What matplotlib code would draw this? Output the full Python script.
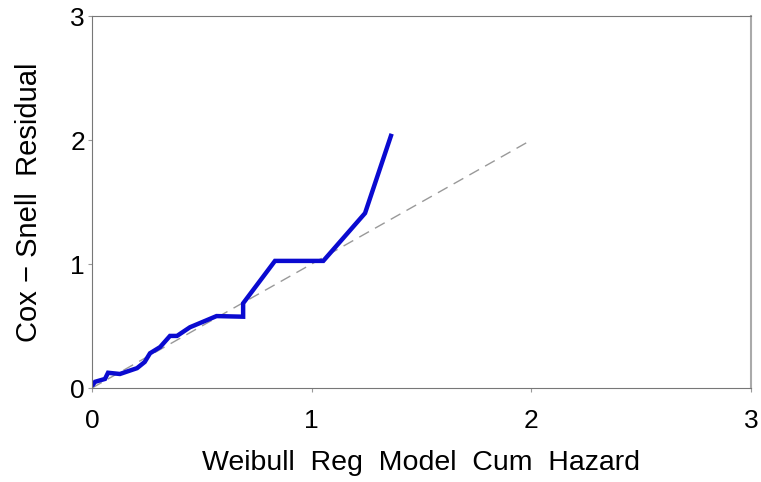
"""
Cox-Snell residual plot for the Weibull regression model
"""

import matplotlib
matplotlib.use('Agg')
import matplotlib.pyplot as plt

# cumulative hazard from the model vs Cox-Snell residual
cum_hazard = [0.0, 0.014, 0.059, 0.073, 0.127, 0.205, 0.24, 0.264, 0.31, 0.355,
              0.387, 0.446, 0.567, 0.688, 0.688, 0.833, 1.053, 1.243, 1.364]
residual = [0.016, 0.05, 0.073, 0.123, 0.113, 0.16, 0.21, 0.28, 0.33, 0.42,
            0.42, 0.49, 0.58, 0.575, 0.683, 1.025, 1.025, 1.41, 2.05]

# reference line y = x
ref_x = [0, 2]
ref_y = [0, 2]

ticks = [0, 1, 2, 3]

plt.rcParams['font.family'] = ['Liberation Sans', 'DejaVu Sans']

fig = plt.figure(figsize=(7.61, 4.82), dpi=100)
ax = fig.add_axes([92 / 761, 94 / 482, 659 / 761, 372 / 482])

ax.plot(ref_x, ref_y, color='#999999', linestyle=(0, (8, 5)), linewidth=1.0)
ax.plot(cum_hazard, residual, color='#0a0ad0', linewidth=3.2,
        solid_joinstyle='miter', solid_capstyle='butt')

ax.set_xlim(0, 3)
ax.set_ylim(0, 3)
ax.set_xticks(ticks)
ax.set_yticks(ticks)
ax.tick_params(axis='both', labelsize=19, length=3, color='#999999')
ax.tick_params(axis='x', pad=12)
ax.tick_params(axis='y', pad=2)

for side in ['left', 'bottom', 'top']:
    ax.spines[side].set_color('#777777')
ax.spines['right'].set_color('#aaaaaa')
ax.spines['right'].set_linewidth(1.5)

ax.set_xlabel('Weibull  Reg  Model  Cum  Hazard', fontsize=20.5, labelpad=12)
ax.set_ylabel('Cox \u2212 Snell  Residual', fontsize=21, labelpad=20)

plt.savefig('out.png', dpi=100)
